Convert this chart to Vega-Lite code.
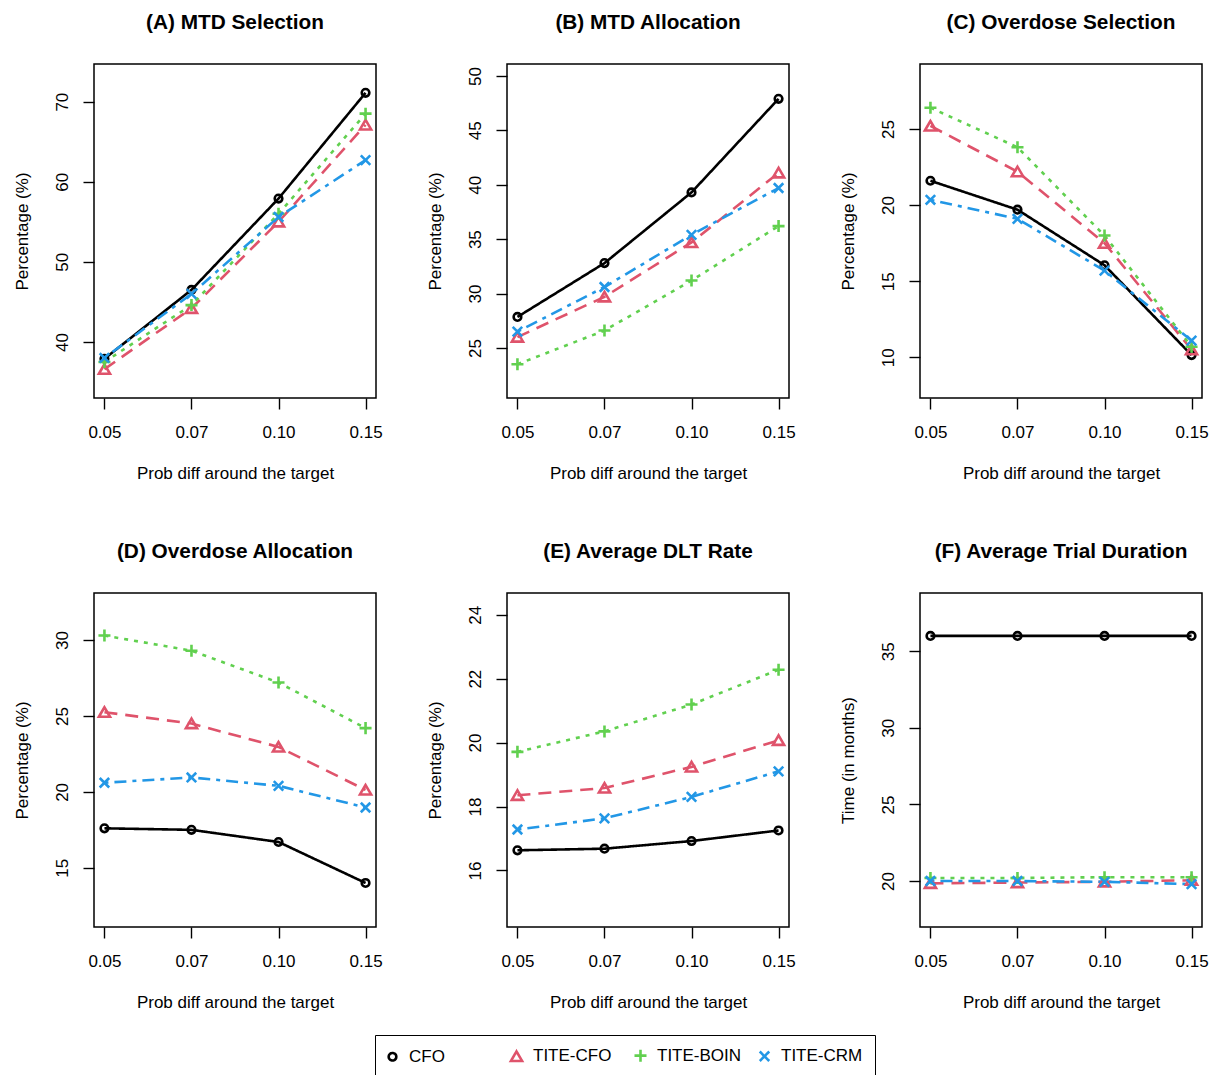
{
  "$schema": "https://vega.github.io/schema/vega-lite/v6.json",
  "background": "white",
  "padding": {"left": 12, "top": 11, "right": 5, "bottom": 5},
  "bounds": "flush",
  "spacing": {"row": 195, "column": 131},
  "columns": 3,
  "data": {"values": [
    {"panel":"A","p":"0.05","method":"CFO","v":37.9},{"panel":"A","p":"0.07","method":"CFO","v":46.5},{"panel":"A","p":"0.10","method":"CFO","v":57.9},{"panel":"A","p":"0.15","method":"CFO","v":71.1},
    {"panel":"A","p":"0.05","method":"TITE-CFO","v":36.6},{"panel":"A","p":"0.07","method":"TITE-CFO","v":44.2},{"panel":"A","p":"0.10","method":"TITE-CFO","v":55.0},{"panel":"A","p":"0.15","method":"TITE-CFO","v":67.1},
    {"panel":"A","p":"0.05","method":"TITE-BOIN","v":37.5},{"panel":"A","p":"0.07","method":"TITE-BOIN","v":44.6},{"panel":"A","p":"0.10","method":"TITE-BOIN","v":56.0},{"panel":"A","p":"0.15","method":"TITE-BOIN","v":68.5},
    {"panel":"A","p":"0.05","method":"TITE-CRM","v":38.0},{"panel":"A","p":"0.07","method":"TITE-CRM","v":46.0},{"panel":"A","p":"0.10","method":"TITE-CRM","v":55.6},{"panel":"A","p":"0.15","method":"TITE-CRM","v":62.7},

    {"panel":"B","p":"0.05","method":"CFO","v":27.85},{"panel":"B","p":"0.07","method":"CFO","v":32.8},{"panel":"B","p":"0.10","method":"CFO","v":39.3},{"panel":"B","p":"0.15","method":"CFO","v":47.9},
    {"panel":"B","p":"0.05","method":"TITE-CFO","v":26.0},{"panel":"B","p":"0.07","method":"TITE-CFO","v":29.7},{"panel":"B","p":"0.10","method":"TITE-CFO","v":34.7},{"panel":"B","p":"0.15","method":"TITE-CFO","v":41.1},
    {"panel":"B","p":"0.05","method":"TITE-BOIN","v":23.5},{"panel":"B","p":"0.07","method":"TITE-BOIN","v":26.6},{"panel":"B","p":"0.10","method":"TITE-BOIN","v":31.2},{"panel":"B","p":"0.15","method":"TITE-BOIN","v":36.2},
    {"panel":"B","p":"0.05","method":"TITE-CRM","v":26.5},{"panel":"B","p":"0.07","method":"TITE-CRM","v":30.6},{"panel":"B","p":"0.10","method":"TITE-CRM","v":35.4},{"panel":"B","p":"0.15","method":"TITE-CRM","v":39.7},

    {"panel":"C","p":"0.05","method":"CFO","v":21.6},{"panel":"C","p":"0.07","method":"CFO","v":19.7},{"panel":"C","p":"0.10","method":"CFO","v":16.05},{"panel":"C","p":"0.15","method":"CFO","v":10.15},
    {"panel":"C","p":"0.05","method":"TITE-CFO","v":25.2},{"panel":"C","p":"0.07","method":"TITE-CFO","v":22.2},{"panel":"C","p":"0.10","method":"TITE-CFO","v":17.5},{"panel":"C","p":"0.15","method":"TITE-CFO","v":10.5},
    {"panel":"C","p":"0.05","method":"TITE-BOIN","v":26.4},{"panel":"C","p":"0.07","method":"TITE-BOIN","v":23.8},{"panel":"C","p":"0.10","method":"TITE-BOIN","v":18.0},{"panel":"C","p":"0.15","method":"TITE-BOIN","v":10.7},
    {"panel":"C","p":"0.05","method":"TITE-CRM","v":20.35},{"panel":"C","p":"0.07","method":"TITE-CRM","v":19.1},{"panel":"C","p":"0.10","method":"TITE-CRM","v":15.7},{"panel":"C","p":"0.15","method":"TITE-CRM","v":11.1},

    {"panel":"D","p":"0.05","method":"CFO","v":17.6},{"panel":"D","p":"0.07","method":"CFO","v":17.5},{"panel":"D","p":"0.10","method":"CFO","v":16.7},{"panel":"D","p":"0.15","method":"CFO","v":14.0},
    {"panel":"D","p":"0.05","method":"TITE-CFO","v":25.25},{"panel":"D","p":"0.07","method":"TITE-CFO","v":24.5},{"panel":"D","p":"0.10","method":"TITE-CFO","v":22.96},{"panel":"D","p":"0.15","method":"TITE-CFO","v":20.13},
    {"panel":"D","p":"0.05","method":"TITE-BOIN","v":30.3},{"panel":"D","p":"0.07","method":"TITE-BOIN","v":29.3},{"panel":"D","p":"0.10","method":"TITE-BOIN","v":27.2},{"panel":"D","p":"0.15","method":"TITE-BOIN","v":24.2},
    {"panel":"D","p":"0.05","method":"TITE-CRM","v":20.6},{"panel":"D","p":"0.07","method":"TITE-CRM","v":20.95},{"panel":"D","p":"0.10","method":"TITE-CRM","v":20.4},{"panel":"D","p":"0.15","method":"TITE-CRM","v":18.97},

    {"panel":"E","p":"0.05","method":"CFO","v":16.63},{"panel":"E","p":"0.07","method":"CFO","v":16.68},{"panel":"E","p":"0.10","method":"CFO","v":16.92},{"panel":"E","p":"0.15","method":"CFO","v":17.25},
    {"panel":"E","p":"0.05","method":"TITE-CFO","v":18.35},{"panel":"E","p":"0.07","method":"TITE-CFO","v":18.58},{"panel":"E","p":"0.10","method":"TITE-CFO","v":19.24},{"panel":"E","p":"0.15","method":"TITE-CFO","v":20.07},
    {"panel":"E","p":"0.05","method":"TITE-BOIN","v":19.71},{"panel":"E","p":"0.07","method":"TITE-BOIN","v":20.35},{"panel":"E","p":"0.10","method":"TITE-BOIN","v":21.19},{"panel":"E","p":"0.15","method":"TITE-BOIN","v":22.28},
    {"panel":"E","p":"0.05","method":"TITE-CRM","v":17.28},{"panel":"E","p":"0.07","method":"TITE-CRM","v":17.63},{"panel":"E","p":"0.10","method":"TITE-CRM","v":18.3},{"panel":"E","p":"0.15","method":"TITE-CRM","v":19.1},

    {"panel":"F","p":"0.05","method":"CFO","v":36.0},{"panel":"F","p":"0.07","method":"CFO","v":36.0},{"panel":"F","p":"0.10","method":"CFO","v":36.0},{"panel":"F","p":"0.15","method":"CFO","v":36.0},
    {"panel":"F","p":"0.05","method":"TITE-CFO","v":19.85},{"panel":"F","p":"0.07","method":"TITE-CFO","v":19.9},{"panel":"F","p":"0.10","method":"TITE-CFO","v":19.95},{"panel":"F","p":"0.15","method":"TITE-CFO","v":20.05},
    {"panel":"F","p":"0.05","method":"TITE-BOIN","v":20.2},{"panel":"F","p":"0.07","method":"TITE-BOIN","v":20.2},{"panel":"F","p":"0.10","method":"TITE-BOIN","v":20.25},{"panel":"F","p":"0.15","method":"TITE-BOIN","v":20.25},
    {"panel":"F","p":"0.05","method":"TITE-CRM","v":20.0},{"panel":"F","p":"0.07","method":"TITE-CRM","v":20.0},{"panel":"F","p":"0.10","method":"TITE-CRM","v":19.95},{"panel":"F","p":"0.15","method":"TITE-CRM","v":19.8}
  ]},
  "concat": [
    {
      "title": "(A) MTD Selection",
      "width": 282, "height": 334,
      "transform": [{"filter": "datum.panel === 'A'"}],
      "encoding": {
        "x": {"field": "p", "type": "ordinal", "sort": ["0.05","0.07","0.10","0.15"], "title": "Prob diff around the target", "scale": {"type": "point", "padding": 0.12}},
        "y": {"field": "v", "type": "quantitative", "title": "Percentage (%)", "scale": {"domain": [33, 74.7], "nice": false, "zero": false}, "axis": {"values": [40, 50, 60, 70]}},
        "color": {"field": "method", "type": "nominal", "scale": {"domain": ["CFO","TITE-CFO","TITE-BOIN","TITE-CRM"], "range": ["#000000","#DF536B","#61D04F","#2297E6"]}, "legend": {"title": null}}
      },
      "layer": [
        {"mark": {"type": "line", "strokeWidth": 2.6}, "encoding": {"strokeDash": {"field": "method", "type": "nominal", "scale": {"domain": ["TITE-CRM","TITE-BOIN","TITE-CFO","CFO"], "range": [[4,6,12,6],[4,6],[13,8],[1,0]]}, "legend": null}}},
        {"mark": {"type": "point", "filled": false, "strokeWidth": 2.6, "size": 160, "opacity": 1}, "encoding": {"shape": {"field": "method", "type": "nominal", "scale": {"domain": ["CFO","TITE-CFO","TITE-BOIN","TITE-CRM"], "range": ["M0.6,0A0.6,0.6,0,1,1,-0.6,0A0.6,0.6,0,1,1,0.6,0Z","M0,-0.78L-0.88,0.72L0.88,0.72Z","M-0.95,0L0.95,0M0,-0.95L0,0.95","M-0.75,-0.75L0.75,0.75M-0.75,0.75L0.75,-0.75"]}, "legend": {"title": null}}}}
      ]
    },
    {
      "title": "(B) MTD Allocation",
      "width": 282, "height": 334,
      "transform": [{"filter": "datum.panel === 'B'"}],
      "encoding": {
        "x": {"field": "p", "type": "ordinal", "sort": ["0.05","0.07","0.10","0.15"], "title": "Prob diff around the target", "scale": {"type": "point", "padding": 0.12}},
        "y": {"field": "v", "type": "quantitative", "title": "Percentage (%)", "scale": {"domain": [20.4, 51.1], "nice": false, "zero": false}, "axis": {"values": [25, 30, 35, 40, 45, 50]}},
        "color": {"field": "method", "type": "nominal", "scale": {"domain": ["CFO","TITE-CFO","TITE-BOIN","TITE-CRM"], "range": ["#000000","#DF536B","#61D04F","#2297E6"]}, "legend": {"title": null}}
      },
      "layer": [
        {"mark": {"type": "line", "strokeWidth": 2.6}, "encoding": {"strokeDash": {"field": "method", "type": "nominal", "scale": {"domain": ["TITE-CRM","TITE-BOIN","TITE-CFO","CFO"], "range": [[4,6,12,6],[4,6],[13,8],[1,0]]}, "legend": null}}},
        {"mark": {"type": "point", "filled": false, "strokeWidth": 2.6, "size": 160, "opacity": 1}, "encoding": {"shape": {"field": "method", "type": "nominal", "scale": {"domain": ["CFO","TITE-CFO","TITE-BOIN","TITE-CRM"], "range": ["M0.6,0A0.6,0.6,0,1,1,-0.6,0A0.6,0.6,0,1,1,0.6,0Z","M0,-0.78L-0.88,0.72L0.88,0.72Z","M-0.95,0L0.95,0M0,-0.95L0,0.95","M-0.75,-0.75L0.75,0.75M-0.75,0.75L0.75,-0.75"]}, "legend": {"title": null}}}}
      ]
    },
    {
      "title": "(C) Overdose Selection",
      "width": 282, "height": 334,
      "transform": [{"filter": "datum.panel === 'C'"}],
      "encoding": {
        "x": {"field": "p", "type": "ordinal", "sort": ["0.05","0.07","0.10","0.15"], "title": "Prob diff around the target", "scale": {"type": "point", "padding": 0.12}},
        "y": {"field": "v", "type": "quantitative", "title": "Percentage (%)", "scale": {"domain": [7.33, 29.27], "nice": false, "zero": false}, "axis": {"values": [10, 15, 20, 25]}},
        "color": {"field": "method", "type": "nominal", "scale": {"domain": ["CFO","TITE-CFO","TITE-BOIN","TITE-CRM"], "range": ["#000000","#DF536B","#61D04F","#2297E6"]}, "legend": {"title": null}}
      },
      "layer": [
        {"mark": {"type": "line", "strokeWidth": 2.6}, "encoding": {"strokeDash": {"field": "method", "type": "nominal", "scale": {"domain": ["TITE-CRM","TITE-BOIN","TITE-CFO","CFO"], "range": [[4,6,12,6],[4,6],[13,8],[1,0]]}, "legend": null}}},
        {"mark": {"type": "point", "filled": false, "strokeWidth": 2.6, "size": 160, "opacity": 1}, "encoding": {"shape": {"field": "method", "type": "nominal", "scale": {"domain": ["CFO","TITE-CFO","TITE-BOIN","TITE-CRM"], "range": ["M0.6,0A0.6,0.6,0,1,1,-0.6,0A0.6,0.6,0,1,1,0.6,0Z","M0,-0.78L-0.88,0.72L0.88,0.72Z","M-0.95,0L0.95,0M0,-0.95L0,0.95","M-0.75,-0.75L0.75,0.75M-0.75,0.75L0.75,-0.75"]}, "legend": {"title": null}}}}
      ]
    },
    {
      "title": "(D) Overdose Allocation",
      "width": 282, "height": 334,
      "transform": [{"filter": "datum.panel === 'D'"}],
      "encoding": {
        "x": {"field": "p", "type": "ordinal", "sort": ["0.05","0.07","0.10","0.15"], "title": "Prob diff around the target", "scale": {"type": "point", "padding": 0.12}},
        "y": {"field": "v", "type": "quantitative", "title": "Percentage (%)", "scale": {"domain": [11.1, 33.1], "nice": false, "zero": false}, "axis": {"values": [15, 20, 25, 30]}},
        "color": {"field": "method", "type": "nominal", "scale": {"domain": ["CFO","TITE-CFO","TITE-BOIN","TITE-CRM"], "range": ["#000000","#DF536B","#61D04F","#2297E6"]}, "legend": {"title": null}}
      },
      "layer": [
        {"mark": {"type": "line", "strokeWidth": 2.6}, "encoding": {"strokeDash": {"field": "method", "type": "nominal", "scale": {"domain": ["TITE-CRM","TITE-BOIN","TITE-CFO","CFO"], "range": [[4,6,12,6],[4,6],[13,8],[1,0]]}, "legend": null}}},
        {"mark": {"type": "point", "filled": false, "strokeWidth": 2.6, "size": 160, "opacity": 1}, "encoding": {"shape": {"field": "method", "type": "nominal", "scale": {"domain": ["CFO","TITE-CFO","TITE-BOIN","TITE-CRM"], "range": ["M0.6,0A0.6,0.6,0,1,1,-0.6,0A0.6,0.6,0,1,1,0.6,0Z","M0,-0.78L-0.88,0.72L0.88,0.72Z","M-0.95,0L0.95,0M0,-0.95L0,0.95","M-0.75,-0.75L0.75,0.75M-0.75,0.75L0.75,-0.75"]}, "legend": {"title": null}}}}
      ]
    },
    {
      "title": "(E) Average DLT Rate",
      "width": 282, "height": 334,
      "transform": [{"filter": "datum.panel === 'E'"}],
      "encoding": {
        "x": {"field": "p", "type": "ordinal", "sort": ["0.05","0.07","0.10","0.15"], "title": "Prob diff around the target", "scale": {"type": "point", "padding": 0.12}},
        "y": {"field": "v", "type": "quantitative", "title": "Percentage (%)", "scale": {"domain": [14.23, 24.68], "nice": false, "zero": false}, "axis": {"values": [16, 18, 20, 22, 24]}},
        "color": {"field": "method", "type": "nominal", "scale": {"domain": ["CFO","TITE-CFO","TITE-BOIN","TITE-CRM"], "range": ["#000000","#DF536B","#61D04F","#2297E6"]}, "legend": {"title": null}}
      },
      "layer": [
        {"mark": {"type": "line", "strokeWidth": 2.6}, "encoding": {"strokeDash": {"field": "method", "type": "nominal", "scale": {"domain": ["TITE-CRM","TITE-BOIN","TITE-CFO","CFO"], "range": [[4,6,12,6],[4,6],[13,8],[1,0]]}, "legend": null}}},
        {"mark": {"type": "point", "filled": false, "strokeWidth": 2.6, "size": 160, "opacity": 1}, "encoding": {"shape": {"field": "method", "type": "nominal", "scale": {"domain": ["CFO","TITE-CFO","TITE-BOIN","TITE-CRM"], "range": ["M0.6,0A0.6,0.6,0,1,1,-0.6,0A0.6,0.6,0,1,1,0.6,0Z","M0,-0.78L-0.88,0.72L0.88,0.72Z","M-0.95,0L0.95,0M0,-0.95L0,0.95","M-0.75,-0.75L0.75,0.75M-0.75,0.75L0.75,-0.75"]}, "legend": {"title": null}}}}
      ]
    },
    {
      "title": "(F) Average Trial Duration",
      "width": 282, "height": 334,
      "transform": [{"filter": "datum.panel === 'F'"}],
      "encoding": {
        "x": {"field": "p", "type": "ordinal", "sort": ["0.05","0.07","0.10","0.15"], "title": "Prob diff around the target", "scale": {"type": "point", "padding": 0.12}},
        "y": {"field": "v", "type": "quantitative", "title": "Time (in months)", "scale": {"domain": [17.0, 38.8], "nice": false, "zero": false}, "axis": {"values": [20, 25, 30, 35]}},
        "color": {"field": "method", "type": "nominal", "scale": {"domain": ["CFO","TITE-CFO","TITE-BOIN","TITE-CRM"], "range": ["#000000","#DF536B","#61D04F","#2297E6"]}, "legend": {"title": null}}
      },
      "layer": [
        {"mark": {"type": "line", "strokeWidth": 2.6}, "encoding": {"strokeDash": {"field": "method", "type": "nominal", "scale": {"domain": ["TITE-CRM","TITE-BOIN","TITE-CFO","CFO"], "range": [[4,6,12,6],[4,6],[13,8],[1,0]]}, "legend": null}}},
        {"mark": {"type": "point", "filled": false, "strokeWidth": 2.6, "size": 160, "opacity": 1}, "encoding": {"shape": {"field": "method", "type": "nominal", "scale": {"domain": ["CFO","TITE-CFO","TITE-BOIN","TITE-CRM"], "range": ["M0.6,0A0.6,0.6,0,1,1,-0.6,0A0.6,0.6,0,1,1,0.6,0Z","M0,-0.78L-0.88,0.72L0.88,0.72Z","M-0.95,0L0.95,0M0,-0.95L0,0.95","M-0.75,-0.75L0.75,0.75M-0.75,0.75L0.75,-0.75"]}, "legend": {"title": null}}}}
      ]
    }
  ],
  "config": {
    "font": "Liberation Sans",
    "view": {"stroke": "black", "strokeWidth": 1.5},
    "title": {"font": "Liberation Sans", "fontSize": 20.8, "fontWeight": "bold", "color": "black", "frame": "group", "anchor": "middle", "baseline": "alphabetic", "offset": 30},
    "axis": {"domain": false, "grid": false, "tickColor": "black", "tickWidth": 1.4, "tickSize": 11, "labelFont": "Liberation Sans", "labelFontSize": 17, "labelColor": "black", "titleFont": "Liberation Sans", "titleFontSize": 17, "titleFontWeight": "normal", "titleColor": "black"},
    "axisX": {"labelAngle": 0, "labelPadding": 15, "titlePadding": 25},
    "axisY": {"labelAngle": -90, "labelAlign": "center", "labelBaseline": "alphabetic", "labelPadding": 16, "titlePadding": 22},
    "legend": {"orient": "none", "legendX": 281, "legendY": 971, "direction": "horizontal", "columns": 4, "gridAlign": "all", "strokeColor": "black", "padding": 12, "labelFont": "Liberation Sans", "labelFontSize": 17, "labelColor": "black", "symbolSize": 160, "symbolStrokeWidth": 2.6, "symbolDash": [1, 0], "symbolOffset": -3, "labelOffset": 8, "columnPadding": 11}
  }
}
